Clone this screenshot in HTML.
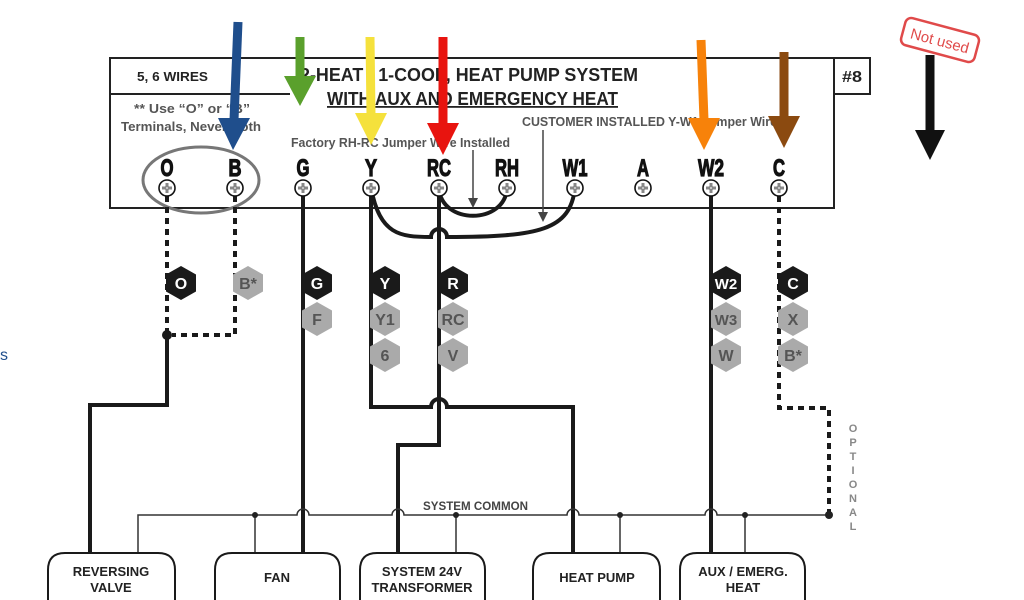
<!DOCTYPE html>
<html><head><meta charset="utf-8"><style>
html,body{margin:0;padding:0;background:#fff;width:1024px;height:600px;overflow:hidden}
svg{display:block}
.t{font-family:"Liberation Sans",sans-serif;font-weight:bold}
.term{font-family:"Liberation Sans",sans-serif;font-weight:bold;font-size:24px;fill:#111;stroke:#111;stroke-width:1.2;text-anchor:middle}
.hx{font-family:"Liberation Sans",sans-serif;font-weight:bold;font-size:16px;text-anchor:middle}
</style></head><body>
<svg width="1024" height="600" viewBox="0 0 1024 600" xmlns="http://www.w3.org/2000/svg">
<defs>
<g id="scr"><circle r="8" fill="#fff" stroke="#111" stroke-width="1.6"/><path d="M-5 0H5M0 -5V5" stroke="#111" stroke-width="2.5"/><path d="M-5 0H5M0 -5V5" stroke="#fff" stroke-width="1"/></g>
<polygon id="hex" points="0,-17 15,-8.5 15,8.5 0,17 -15,8.5 -15,-8.5"/>
</defs>
<rect x="110" y="58" width="724" height="150" fill="none" stroke="#222" stroke-width="2"/>
<line x1="110" y1="94" x2="290" y2="94" stroke="#222" stroke-width="2"/>
<rect x="834" y="58" width="36" height="36" fill="none" stroke="#222" stroke-width="2"/>
<text x="852" y="82" class="t" font-size="16" text-anchor="middle" fill="#222" textLength="20" lengthAdjust="spacingAndGlyphs">#8</text>
<text x="137" y="81" class="t" font-size="13" fill="#222" textLength="71" lengthAdjust="spacingAndGlyphs">5, 6 WIRES</text>
<text x="300" y="81" class="t" font-size="18" fill="#222" textLength="338" lengthAdjust="spacingAndGlyphs">2-HEAT / 1-COOL, HEAT PUMP SYSTEM</text>
<text x="327" y="105" class="t" font-size="18" fill="#222" textLength="291" lengthAdjust="spacingAndGlyphs" text-decoration="underline">WITH AUX AND EMERGENCY HEAT</text>
<text x="134" y="113" class="t" font-size="13" fill="#555" textLength="116" lengthAdjust="spacingAndGlyphs">** Use “O” or “B”</text>
<text x="121" y="131" class="t" font-size="13" fill="#555" textLength="140" lengthAdjust="spacingAndGlyphs">Terminals, Never Both</text>
<text x="291" y="147" class="t" font-size="13" fill="#555" textLength="219" lengthAdjust="spacingAndGlyphs">Factory RH-RC Jumper Wire Installed</text>
<text x="522" y="126" class="t" font-size="13" fill="#555" textLength="255" lengthAdjust="spacingAndGlyphs">CUSTOMER INSTALLED Y-W1 Jumper Wire</text>
<line x1="473" y1="150" x2="473" y2="200" stroke="#444" stroke-width="1.5"/><polygon points="468,198 478,198 473,208" fill="#444"/>
<line x1="543" y1="130" x2="543" y2="214" stroke="#444" stroke-width="1.5"/><polygon points="538,212 548,212 543,222" fill="#444"/>
<g class="term" font-size="26">
<text x="167" y="176" textLength="13" lengthAdjust="spacingAndGlyphs">O</text>
<text x="235" y="176" textLength="13" lengthAdjust="spacingAndGlyphs">B</text>
<text x="303" y="176" textLength="13" lengthAdjust="spacingAndGlyphs">G</text>
<text x="371" y="176" textLength="12" lengthAdjust="spacingAndGlyphs">Y</text>
<text x="439" y="176" textLength="24" lengthAdjust="spacingAndGlyphs">RC</text>
<text x="507" y="176" textLength="24" lengthAdjust="spacingAndGlyphs">RH</text>
<text x="575" y="176" textLength="25" lengthAdjust="spacingAndGlyphs">W1</text>
<text x="643" y="176" textLength="12" lengthAdjust="spacingAndGlyphs">A</text>
<text x="711" y="176" textLength="26" lengthAdjust="spacingAndGlyphs">W2</text>
<text x="779" y="176" textLength="12" lengthAdjust="spacingAndGlyphs">C</text>
</g>
<ellipse cx="201" cy="180" rx="58" ry="33" fill="none" stroke="#777" stroke-width="3"/>
<g fill="none" stroke="#1a1a1a" stroke-width="4">
<path d="M303 188V553"/>
<path d="M371 188V407H431A8 8 0 0 1 447 407H573V553"/>
<path d="M439 188V445H398V553"/>
<path d="M167 335V405H90V553"/>
<path d="M711 188V553"/>
<path d="M439 188C441 225 505 225 507 188"/>
<path d="M371 188C380 235 400 237 431 237A8 8 0 0 1 447 237C540 237 570 230 575 188"/>
</g>
<g fill="none" stroke="#1a1a1a" stroke-width="4" stroke-dasharray="6,5">
<path d="M167 196V335"/>
<path d="M235 196V335H172"/>
<path d="M779 196V408H829V515"/>
</g>
<circle cx="167" cy="335" r="5" fill="#1a1a1a"/>
<g fill="none" stroke="#333" stroke-width="1.5">
<path d="M138 553V515H297A6 6 0 0 1 309 515H392A6 6 0 0 1 404 515H567A6 6 0 0 1 579 515H705A6 6 0 0 1 717 515H829"/>
<path d="M255 515V553M456 515V553M620 515V553M745 515V553"/>
</g>
<g fill="#222"><circle cx="255" cy="515" r="3"/><circle cx="456" cy="515" r="3"/><circle cx="620" cy="515" r="3"/><circle cx="745" cy="515" r="3"/><circle cx="829" cy="515" r="4"/></g>
<text x="423" y="510" class="t" font-size="12" fill="#444" textLength="105" lengthAdjust="spacingAndGlyphs">SYSTEM COMMON</text>
<g class="t" font-size="11" fill="#888" text-anchor="middle">
<text x="853" y="432">O</text><text x="853" y="446">P</text><text x="853" y="460">T</text><text x="853" y="474">I</text><text x="853" y="488">O</text><text x="853" y="502">N</text><text x="853" y="516">A</text><text x="853" y="530">L</text>
</g>
<use href="#scr" x="167" y="188"/><use href="#scr" x="235" y="188"/><use href="#scr" x="303" y="188"/><use href="#scr" x="371" y="188"/><use href="#scr" x="439" y="188"/><use href="#scr" x="507" y="188"/><use href="#scr" x="575" y="188"/><use href="#scr" x="643" y="188"/><use href="#scr" x="711" y="188"/><use href="#scr" x="779" y="188"/>
<g fill="#1a1a1a">
<use href="#hex" x="181" y="283"/><use href="#hex" x="317" y="283"/><use href="#hex" x="385" y="283"/><use href="#hex" x="453" y="283"/><use href="#hex" x="726" y="283"/><use href="#hex" x="793" y="283"/>
</g>
<g fill="#aaa">
<use href="#hex" x="248" y="283"/><use href="#hex" x="317" y="319"/><use href="#hex" x="385" y="319"/><use href="#hex" x="385" y="355"/><use href="#hex" x="453" y="319"/><use href="#hex" x="453" y="355"/><use href="#hex" x="726" y="319"/><use href="#hex" x="726" y="355"/><use href="#hex" x="793" y="319"/><use href="#hex" x="793" y="355"/>
</g>
<g class="hx" fill="#fff">
<text x="181" y="289">O</text><text x="317" y="289">G</text><text x="385" y="289">Y</text><text x="453" y="289">R</text><text x="726" y="289" font-size="15">W2</text><text x="793" y="289">C</text>
</g>
<g class="hx" fill="#555">
<text x="248" y="289">B*</text><text x="317" y="325">F</text><text x="385" y="325">Y1</text><text x="385" y="361">6</text><text x="453" y="325">RC</text><text x="453" y="361">V</text><text x="726" y="325" font-size="15">W3</text><text x="726" y="361">W</text><text x="793" y="325">X</text><text x="793" y="361">B*</text>
</g>
<g fill="#fff" stroke="#1a1a1a" stroke-width="2">
<path d="M48 605V570Q48 553 65 553H158Q175 553 175 570V605"/>
<path d="M215 605V570Q215 553 232 553H323Q340 553 340 570V605"/>
<path d="M360 605V570Q360 553 377 553H468Q485 553 485 570V605"/>
<path d="M533 605V570Q533 553 550 553H643Q660 553 660 570V605"/>
<path d="M680 605V570Q680 553 697 553H788Q805 553 805 570V605"/>
</g>
<g class="t" font-size="13" text-anchor="middle" fill="#222">
<text x="111" y="576">REVERSING</text><text x="111" y="592">VALVE</text>
<text x="277" y="582">FAN</text>
<text x="422" y="576">SYSTEM 24V</text><text x="422" y="592">TRANSFORMER</text>
<text x="597" y="582">HEAT PUMP</text>
<text x="743" y="576">AUX / EMERG.</text><text x="743" y="592">HEAT</text>
</g>
<g stroke-width="9">
<line x1="238" y1="22" x2="234" y2="120" stroke="#1f4e8c"/><polygon points="218,118 250,118 233,150" fill="#1f4e8c" stroke="none"/>
<line x1="300" y1="37" x2="300" y2="78" stroke="#5aa02c"/><polygon points="284,76 316,76 300,106" fill="#5aa02c" stroke="none"/>
<line x1="370" y1="37" x2="371" y2="115" stroke="#f5e13c"/><polygon points="355,113 387,113 371,145" fill="#f5e13c" stroke="none"/>
<line x1="443" y1="37" x2="443" y2="125" stroke="#e8140f"/><polygon points="427,123 459,123 443,155" fill="#e8140f" stroke="none"/>
<line x1="701" y1="40" x2="704" y2="120" stroke="#f7820a"/><polygon points="688,118 720,118 704,150" fill="#f7820a" stroke="none"/>
<line x1="784" y1="52" x2="784" y2="118" stroke="#8b4a10"/><polygon points="768,116 800,116 784,148" fill="#8b4a10" stroke="none"/>
<line x1="930" y1="55" x2="930" y2="132" stroke="#111"/><polygon points="915,130 945,130 930,160" fill="#111" stroke="none"/>
</g>
<g transform="translate(940,40) rotate(15)">
<rect x="-38" y="-14" width="76" height="28" rx="6" fill="#fff" stroke="#e04a4a" stroke-width="2.5"/>
<text x="0" y="6" font-family="Liberation Sans,sans-serif" font-size="15" fill="#e04a4a" text-anchor="middle">Not used</text>
</g>
<text x="0" y="360" font-family="Liberation Sans,sans-serif" font-size="16" fill="#1f4e8c">s</text>
</svg>
</body></html>
